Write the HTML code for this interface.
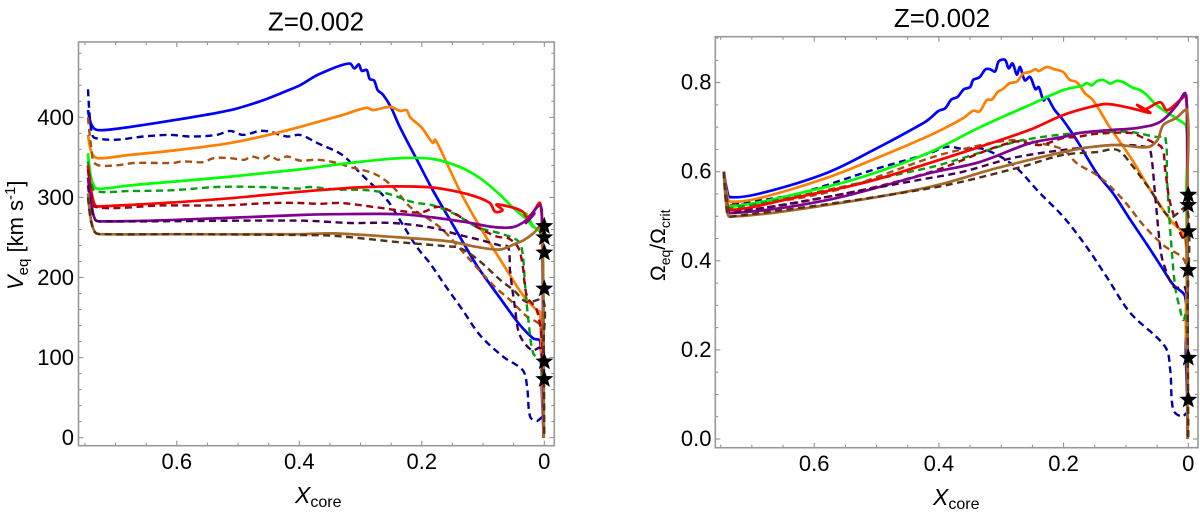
<!DOCTYPE html>
<html lang="en">
<head>
<meta charset="utf-8">
<title>Z=0.002 rotation evolution</title>
<style>
html,body{margin:0;padding:0;background:#fff;width:1200px;height:512px;overflow:hidden}
svg{display:block}
text{font-family:"Liberation Sans",sans-serif;fill:#000}
</style>
</head>
<body>
<svg id="fig" xmlns="http://www.w3.org/2000/svg" width="1200" height="512" viewBox="0 0 1200 512">
<g id="leftPanel"></g>
<g id="rightPanel"></g>
<text x="316" y="30.5" font-size="26" text-anchor="middle">Z=0.002</text>
<text x="942" y="27" font-size="26" text-anchor="middle">Z=0.002</text>
<text transform="translate(23,290) rotate(-90)" font-size="22"><tspan font-style="italic">V</tspan><tspan font-size="15" dy="5">eq</tspan><tspan dy="-5"> [km s</tspan><tspan font-size="15" dy="-8">-1</tspan><tspan dy="8">]</tspan></text>
<text transform="translate(665,281) rotate(-90)" font-size="21">Ω<tspan font-size="14" dy="5">eq</tspan><tspan dy="-5">/Ω</tspan><tspan font-size="14" dy="5">crit</tspan></text>
<text x="295" y="503" font-size="23"><tspan font-style="italic">X</tspan><tspan font-size="16" dy="4">core</tspan></text>
<text x="933" y="505" font-size="23"><tspan font-style="italic">X</tspan><tspan font-size="16" dy="4">core</tspan></text>
</svg>
<script>
// shared tick data
const xMajorTicks = [0.6, 0.4, 0.2, 0];
const xMinorTicks = [0.75, 0.7, 0.65, 0.55, 0.5, 0.45, 0.35, 0.3, 0.25, 0.15, 0.1, 0.05];
const xTickLabels = ['0.6', '0.4', '0.2', '0'];
const leftYMajor = [0, 100, 200, 300, 400];
const leftYMinor = [20, 40, 60, 80, 120, 140, 160, 180, 220, 240, 260, 280, 320, 340, 360, 380, 420, 440, 460, 480];
const leftYLabels = ['0', '100', '200', '300', '400'];
const rightYMajor = [0, 0.2, 0.4, 0.6, 0.8];
const rightYMinor = [0.05, 0.1, 0.15, 0.25, 0.3, 0.35, 0.45, 0.5, 0.55, 0.65, 0.7, 0.75, 0.85, 0.9];
const rightYLabels = ['0.0', '0.2', '0.4', '0.6', '0.8'];
const leftStarV = [264, 250, 231, 186, 95, 73];
const rightStarW = [0.548, 0.525, 0.466, 0.379, 0.182, 0.088];

// LEFT panel: Xcore and Veq
const lBlueX = [.745,.74,.733,.72,.676,.6,.512,.46,.427,.399,.375,.358,.335,.317,.31,.303,.298,.29,.285,.278,.272,.263,.25,.236,.208,.182,.154,.116,.105,.072,.04,.018,.007,.004,.003,.001];
const lBlueV = [409,392,385,384,388,397,409,421,431,440,451,457,464,467,461,466,458,459,448,446,434,428,412,388,347,309,272,222,209,174,141,124,121,60,38,0];
const lBlueDX = [.745,.742,.738,.733,.698,.655,.611,.578,.535,.513,.492,.464,.448,.42,.399,.371,.33,.30,.257,.236,.208,.187,.16,.133,.105,.067,.035,.028,.023,.012,.002,.001];
const lBlueDV = [435,400,378,374,372,376,378,376,378,383,378,383,382,376,378,368,353,330,297,272,238,218,188,159,128,101,84,63,26,21,26,0];
const lOrangeX = [.745,.74,.733,.72,.676,.6,.512,.45,.399,.329,.29,.28,.252,.235,.225,.219,.2,.182,.178,.154,.133,.105,.061,.035,.012,.007,.004,.001];
const lOrangeV = [378,358,350,349,353,359,368,378,388,403,412,409,413,408,409,400,387,368,372,334,301,263,209,178,159,157,80,0];
const lOrangeDX = [.745,.74,.733,.7,.67,.606,.59,.557,.54,.512,.49,.478,.46,.448,.435,.42,.399,.371,.344,.317,.276,.247,.219,.187,.165,.133,.083,.056,.028,.007,.003,.001];
const lOrangeDV = [400,365,342,340,343,343,345,344,349,349,347,351,348,352,347,351,346,347,344,338,329,313,288,272,259,232,190,172,151,140,90,0];
const lGreenX = [.745,.74,.733,.72,.676,.6,.512,.399,.329,.236,.182,.138,.105,.072,.051,.028,.018,.03,.022,.008,.003,.001];
const lGreenV = [355,325,312,311,315,320,326,335,342,349,348,338,324,303,287,272,263,280,268,258,262,0];
const lGreenDX = [.745,.74,.733,.676,.606,.535,.464,.399,.383,.344,.29,.257,.214,.182,.143,.11,.072,.045,.037,.031,.026,.018,.007,.002,.001];
const lGreenDV = [345,320,308,308,309,313,313,311,313,310,309,305,294,290,278,263,255,247,238,188,147,105,97,60,0];
const lRedX = [.745,.74,.733,.72,.6,.512,.399,.29,.192,.154,.116,.089,.08,.068,.078,.05,.035,.028,.018,.007,.003,.001];
const lRedV = [340,310,290,289,294,299,307,313,313,309,302,293,282,284,291,287,282,275,282,293,250,0];
const lRedDX = [.745,.74,.733,.623,.524,.448,.399,.366,.333,.268,.203,.17,.11,.077,.059,.043,.036,.028,.012,.003,.001];
const lRedDV = [335,305,288,290,290,293,293,292,293,287,281,288,263,251,249,238,218,176,159,110,0];
const lPurpleX = [.745,.74,.733,.72,.6,.399,.344,.236,.182,.127,.083,.05,.028,.016,.03,.007,.004,.002,.001];
const lPurpleV = [325,295,272,270,272,278,279,279,275,269,263,263,272,280,268,290,264,150,0];
const lPurpleDX = [.745,.74,.733,.72,.399,.317,.247,.182,.138,.105,.072,.059,.056,.048,.04,.02,.007,.003,.001];
const lPurpleDV = [315,290,272,270,271,268,268,262,253,247,240,238,209,163,128,109,112,90,0];
const lBrownX = [.745,.74,.733,.72,.6,.399,.344,.236,.154,.116,.072,.045,.035,.018,.007,.002,.001];
const lBrownV = [305,272,256,254,254,254,255,250,245,239,235,243,246,255,263,200,0];
const lBrownDX = [.745,.74,.733,.72,.6,.399,.344,.236,.159,.138,.108,.072,.05,.028,.002,.001,0];
const lBrownDV = [300,270,256,254,254,253,252,244,239,237,222,197,184,169,172,120,0];

// RIGHT panel: Xcore and Omega ratio
const rBlueX = [.745,.74,.735,.687,.58,.499,.425,.414,.40,.39,.38,.37,.36,.35,.345,.335,.325,.318,.31,.304,.294,.288,.282,.275,.27,.262,.254,.245,.24,.232,.227,.215,.201,.179,.147,.121,.093,.066,.042,.024,.005,.004,.002,.001];
const rBlueW = [.6,.56,.543,.551,.597,.653,.709,.72,.737,.742,.762,.768,.785,.79,.806,.812,.83,.83,.825,.848,.851,.832,.843,.818,.835,.805,.813,.785,.79,.76,.768,.74,.716,.671,.597,.552,.492,.436,.384,.346,.319,.193,.103,0];
const rBlueDX = [.745,.74,.735,.687,.634,.58,.506,.414,.387,.361,.329,.281,.238,.2,.163,.131,.093,.037,.029,.024,.01,.002,.001];
const rBlueDW = [.6,.55,.53,.536,.548,.57,.604,.642,.656,.651,.651,.615,.552,.498,.431,.364,.283,.207,.155,.065,.05,.058,0];
const rOrangeX = [.745,.74,.735,.687,.58,.499,.414,.361,.345,.335,.323,.315,.305,.298,.286,.275,.265,.254,.245,.24,.227,.215,.201,.19,.179,.165,.153,.126,.093,.061,.029,.005,.004,.002,.001];
const rOrangeW = [.6,.55,.533,.541,.586,.631,.682,.72,.737,.735,.761,.762,.78,.785,.799,.802,.82,.824,.83,.826,.835,.83,.824,.806,.801,.775,.761,.70,.633,.559,.492,.451,.25,.17,0];
const rOrangeDX = [.745,.74,.735,.58,.414,.387,.318,.275,.238,.2,.179,.142,.104,.072,.04,.005,.003,.001];
const rOrangeDW = [.6,.545,.525,.553,.631,.642,.664,.671,.664,.649,.619,.588,.536,.48,.435,.397,.25,0];
const rGreenX = [.745,.74,.735,.58,.499,.414,.334,.254,.201,.17,.163,.155,.147,.137,.125,.115,.104,.09,.077,.065,.056,.04,.02,.003,.003,.002,.001];
const rGreenW = [.6,.54,.521,.566,.599,.644,.70,.75,.783,.793,.799,.794,.803,.806,.798,.804,.801,.789,.783,.77,.756,.738,.72,.70,.56,.3,0];
const rGreenDX = [.745,.74,.735,.419,.361,.307,.265,.2,.147,.093,.05,.037,.034,.029,.021,.013,.008,.002,.001];
const rGreenDW = [.6,.54,.518,.608,.631,.655,.671,.684,.689,.689,.678,.678,.581,.469,.341,.29,.267,.29,0];
const rRedX = [.745,.74,.735,.634,.515,.414,.334,.254,.201,.158,.131,.093,.061,.082,.07,.045,.034,.013,.003,.002,.001];
const rRedW = [.6,.535,.514,.541,.577,.62,.656,.694,.727,.745,.752,.743,.732,.75,.74,.756,.738,.761,.77,.4,0];
const rRedDX = [.745,.74,.735,.547,.414,.281,.238,.2,.179,.147,.093,.072,.058,.042,.037,.029,.01,.003,.001];
const rRedDW = [.6,.53,.51,.552,.599,.667,.66,.676,.678,.685,.687,.676,.667,.653,.604,.53,.453,.45,0];
const rPurpleX = [.745,.74,.735,.58,.414,.334,.254,.201,.174,.121,.082,.045,.018,.005,.002,.001];
const rPurpleW = [.6,.525,.507,.536,.597,.622,.664,.678,.687,.694,.698,.712,.75,.776,.694,0];
const rPurpleDX = [.745,.74,.735,.414,.361,.281,.2,.158,.114,.066,.06,.053,.045,.04,.023,.005,.002,.001];
const rPurpleDW = [.6,.52,.507,.586,.6,.631,.649,.655,.66,.655,.642,.543,.431,.395,.341,.339,.25,0];
const rBrownX = [.745,.74,.735,.58,.414,.307,.201,.158,.114,.066,.05,.04,.02,.002,.002,.001];
const rBrownW = [.6,.515,.499,.525,.566,.608,.644,.655,.66,.655,.67,.705,.72,.738,.55,0];
const rBrownDX = [.745,.74,.735,.414,.275,.2,.147,.114,.093,.061,.029,.002,.001,0];
const rBrownDW = [.6,.51,.499,.563,.608,.638,.644,.649,.619,.559,.498,.52,.3,0];

const SVGNS = 'http://www.w3.org/2000/svg';
function mk(parent, tag, attrs) {
  const el = document.createElementNS(SVGNS, tag);
  for (const k in attrs) el.setAttribute(k, attrs[k]);
  parent.appendChild(el);
  return el;
}
function starPoints(cx, cy, R) {
  const pts = [];
  for (let i = 0; i < 10; i++) {
    const r = i % 2 ? R * 0.42 : R;
    const a = -Math.PI / 2 + i * Math.PI / 5;
    pts.push((cx + r * Math.cos(a)).toFixed(1) + ',' + (cy + r * Math.sin(a)).toFixed(1));
  }
  return pts.join(' ');
}
// chord-scaled smooth curve through the data points
function smoothPath(p) {
  const n = p.length;
  const dist = function (a, b) { return Math.hypot(a[0] - b[0], a[1] - b[1]) || 0.001; };
  const tan = function (i) {
    if (i === 0 || i === n - 1) return [0, 0];
    const s = dist(p[i - 1], p[i]) + dist(p[i], p[i + 1]);
    return [(p[i + 1][0] - p[i - 1][0]) / s, (p[i + 1][1] - p[i - 1][1]) / s];
  };
  let d = 'M' + p[0][0].toFixed(1) + ' ' + p[0][1].toFixed(1);
  for (let i = 0; i < n - 1; i++) {
    const len = dist(p[i], p[i + 1]) / 3;
    const t0 = tan(i);
    const t1 = tan(i + 1);
    d += 'C' + (p[i][0] + t0[0] * len).toFixed(1) + ' ' + (p[i][1] + t0[1] * len).toFixed(1) + ' ' +
      (p[i + 1][0] - t1[0] * len).toFixed(1) + ' ' + (p[i + 1][1] - t1[1] * len).toFixed(1) + ' ' +
      p[i + 1][0].toFixed(1) + ' ' + p[i + 1][1].toFixed(1);
  }
  return d;
}
function drawPanel(g, box, sx, sy, yMajor, yMinor, yLabels, yLabelX, yLabelDy, xLabelY, series, starValues) {
  const clip = mk(document.getElementById('fig'), 'clipPath', {id: g.id + 'Clip'});
  mk(clip, 'rect', {x: box.l, y: box.t, width: box.r - box.l, height: box.b - box.t});
  const tickStyle = {stroke: '#888', 'stroke-width': 1};
  const addX = function (v, len) {
    const a = mk(g, 'line', Object.assign({x1: sx(v), x2: sx(v), y1: box.b, y2: box.b - len}, tickStyle));
    
    
    const b = mk(g, 'line', Object.assign({x1: sx(v), x2: sx(v), y1: box.t, y2: box.t + len}, tickStyle));
    
    
  };
  const addY = function (v, len) {
    const a = mk(g, 'line', Object.assign({y1: sy(v), y2: sy(v), x1: box.l, x2: box.l + len}, tickStyle));
    
    
    const b = mk(g, 'line', Object.assign({y1: sy(v), y2: sy(v), x1: box.r, x2: box.r - len}, tickStyle));
    
    
  };
  xMajorTicks.forEach(function (v) { addX(v, 5); });
  xMinorTicks.forEach(function (v) { addX(v, 3); });
  yMajor.forEach(function (v) { addY(v, 5); });
  yMinor.forEach(function (v) { addY(v, 3); });
  xMajorTicks.forEach(function (v, i) {
    const t = mk(g, 'text', {x: sx(v), y: xLabelY, 'font-size': 22, 'text-anchor': 'middle'});
    
    
    t.textContent = xTickLabels[i];
  });
  yMajor.forEach(function (v, i) {
    const t = mk(g, 'text', {x: yLabelX, y: sy(v) + yLabelDy, 'font-size': 22, 'text-anchor': 'end'});
    
    
    t.textContent = yLabels[i];
  });
  const plot = mk(g, 'g', {'clip-path': 'url(#' + g.id + 'Clip)'});
  
  
  series.forEach(function (s) {
    const pts = s.x.map(function (x, i) { return [sx(x), sy(s.y[i])]; });
    const p = mk(plot, 'path', {d: smoothPath(pts), fill: 'none', stroke: s.color, 'stroke-width': s.dash ? 2.4 : 2.7, 'stroke-linejoin': 'round'});
    if (s.dash) p.setAttribute('stroke-dasharray', '7 4.5');
    
    
  });
  starValues.forEach(function (v) {
    const st = mk(g, 'polygon', {points: starPoints(sx(0), sy(v), 9.5), fill: '#000'});
    
    
  });
  const frame = mk(g, 'rect', {x: box.l, y: box.t, width: box.r - box.l, height: box.b - box.t, fill: 'none', stroke: '#999', 'stroke-width': 1.6});
  
  
}
const C = {blue:'#0000ff', dblue:'#0000a8', orange:'#ff7f00', dorange:'#a5500f', green:'#00ff00', dgreen:'#00a010', red:'#ff0000', dred:'#a00010', purple:'#800090', dpurple:'#400058', brown:'#a86a28', dbrown:'#50301a'};
drawPanel(document.getElementById('leftPanel'), {l: 78.5, r: 554.3, t: 42, b: 445.7},
  function (x) { return 544.3 - 612.5 * x; },
  function (v) { return 437.7 - 0.801 * v; },
  leftYMajor, leftYMinor, leftYLabels, 74, 7.5, 469, [
  {name:'blue-solid-line', x:lBlueX, y:lBlueV, color:C.blue},
  {name:'blue-dashed-line', x:lBlueDX, y:lBlueDV, color:C.dblue, dash:1},
  {name:'orange-solid-line', x:lOrangeX, y:lOrangeV, color:C.orange},
  {name:'orange-dashed-line', x:lOrangeDX, y:lOrangeDV, color:C.dorange, dash:1},
  {name:'green-solid-line', x:lGreenX, y:lGreenV, color:C.green},
  {name:'green-dashed-line', x:lGreenDX, y:lGreenDV, color:C.dgreen, dash:1},
  {name:'red-solid-line', x:lRedX, y:lRedV, color:C.red},
  {name:'red-dashed-line', x:lRedDX, y:lRedDV, color:C.dred, dash:1},
  {name:'purple-solid-line', x:lPurpleX, y:lPurpleV, color:C.purple},
  {name:'purple-dashed-line', x:lPurpleDX, y:lPurpleDV, color:C.dpurple, dash:1},
  {name:'brown-solid-line', x:lBrownX, y:lBrownV, color:C.brown},
  {name:'brown-dashed-line', x:lBrownDX, y:lBrownDV, color:C.dbrown, dash:1}
], leftStarV);
drawPanel(document.getElementById('rightPanel'), {l: 715.3, r: 1198, t: 36.7, b: 447.7},
  function (x) { return 1188.3 - 623.5 * x; },
  function (v) { return 439 - 445.5 * v; },
  rightYMajor, rightYMinor, rightYLabels, 711.5, 7, 471, [
  {name:'blue-solid-line', x:rBlueX, y:rBlueW, color:C.blue},
  {name:'blue-dashed-line', x:rBlueDX, y:rBlueDW, color:C.dblue, dash:1},
  {name:'orange-solid-line', x:rOrangeX, y:rOrangeW, color:C.orange},
  {name:'orange-dashed-line', x:rOrangeDX, y:rOrangeDW, color:C.dorange, dash:1},
  {name:'green-solid-line', x:rGreenX, y:rGreenW, color:C.green},
  {name:'green-dashed-line', x:rGreenDX, y:rGreenDW, color:C.dgreen, dash:1},
  {name:'red-solid-line', x:rRedX, y:rRedW, color:C.red},
  {name:'red-dashed-line', x:rRedDX, y:rRedDW, color:C.dred, dash:1},
  {name:'purple-solid-line', x:rPurpleX, y:rPurpleW, color:C.purple},
  {name:'purple-dashed-line', x:rPurpleDX, y:rPurpleDW, color:C.dpurple, dash:1},
  {name:'brown-solid-line', x:rBrownX, y:rBrownW, color:C.brown},
  {name:'brown-dashed-line', x:rBrownDX, y:rBrownDW, color:C.dbrown, dash:1}
], rightStarW);
</script>
</body>
</html>
